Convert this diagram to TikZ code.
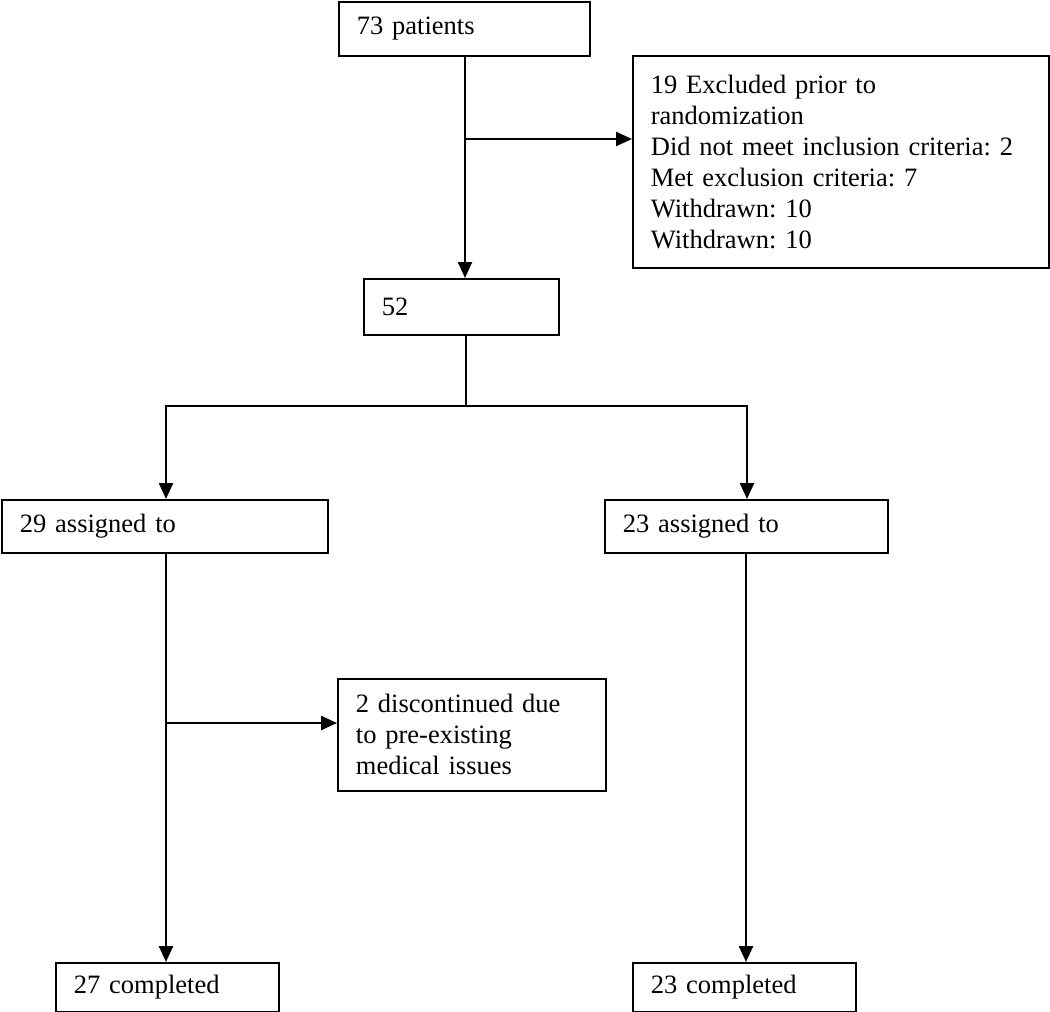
\documentclass[tikz,border=0pt]{standalone}
\usepackage{fontspec}
\setmainfont{Liberation Serif}
\usetikzlibrary{arrows.meta}
\frenchspacing
\tikzset{
  box/.style={draw, line width=1.8pt, rectangle, anchor=north west, inner xsep=18pt, inner ysep=0pt, align=left,
    font=\fontsize{26.5}{31}\selectfont},
  conn/.style={line width=2.2pt},
  arr/.style={line width=2.4pt, -{Triangle[length=16pt,width=14pt]}},
}
\begin{document}
\begin{tikzpicture}[x=1pt,y=-1pt]
\useasboundingbox (0,0) rectangle (1050,1012);
\node[box, text width=215pt, minimum height=54pt] (b1) at (338,1) {73 patients};
\node[box, text width=380pt, minimum height=212pt] (ex) at (632,55) {19 Excluded prior to\\randomization\\Did not meet inclusion criteria: 2\\Met exclusion criteria: 7\\Withdrawn: 10\\Withdrawn: 10};
\node[box, text width=159pt, minimum height=56pt] (b52) at (363,278) {52};
\node[box, text width=290pt, minimum height=53pt] (a29) at (1,499) {29 assigned to};
\node[box, text width=247pt, minimum height=53pt] (a23) at (604,499) {23 assigned to};
\node[box, text width=232pt, minimum height=112pt] (dc) at (337,678) {2 discontinued due\\to pre-existing\\medical issues};
\node[box, text width=187pt, minimum height=49pt] (c27) at (55,962) {27 completed};
\node[box, text width=187pt, minimum height=49pt] (c23) at (632,962) {23 completed};
% columns and junctions
\coordinate (jx) at (465,139);
\coordinate (sp) at (466,406);
\coordinate (sl) at (166,406);
\coordinate (sr) at (747,406);
\coordinate (jd) at (166,723);
\coordinate (cr) at (746,406);
% connectors
\draw[arr] (b1.south -| jx) -- (b52.north -| jx);
\draw[arr] (jx) -- (ex.west |- jx);
\draw[line width=1.4pt] (b52.south -| sp) -- (sp);
\draw[conn] ([xshift=-1.1pt]sl) -- ([xshift=1.1pt]sr);
\draw[arr] (sl) -- (a29.north -| sl);
\draw[arr] (sr) -- (a23.north -| sr);
\draw[arr] (a29.south -| sl) -- (c27.north -| sl);
\draw[arr] (jd) -- (dc.west |- jd);
\draw[arr] (a23.south -| cr) -- (c23.north -| cr);
\end{tikzpicture}
\end{document}
